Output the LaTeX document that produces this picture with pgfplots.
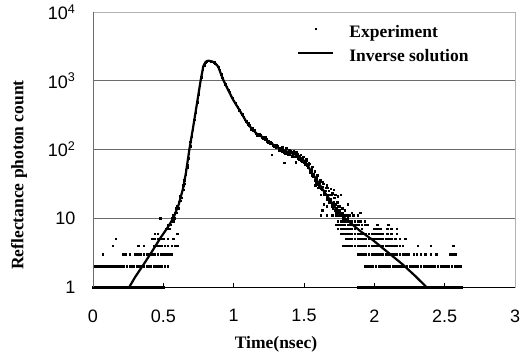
\documentclass[border=0pt]{standalone}
\usepackage{pgfplots}
\pgfplotsset{compat=1.18}
\usepackage{fontspec}
\setmainfont{Liberation Serif}
\setsansfont{Liberation Sans}
\begin{document}
\begin{tikzpicture}[x=1pt,y=1pt]
\useasboundingbox (0,0) rectangle (526,356);
\begin{axis}[
  at={(93pt,69pt)}, anchor=south west,
  scale only axis, width=422pt, height=275pt,
  xmin=0, xmax=3, ymode=log, ymin=1, ymax=10000,
  xtick={0,0.5,1,1.5,2,2.5,3},
  xticklabels={0,0.5,1,1.5,2,2.5,3},
  ytick={1,10,100,1000,10000},
  yticklabels={1,10,10\textsuperscript{2},10\textsuperscript{3},10\textsuperscript{4}},
  yminorticks=false,
  /pgf/number format/assume math mode=true,
  tick label style={font=\fontsize{18}{20}\selectfont\sffamily},
  xticklabel style={yshift=-19pt},
  yticklabel style={xshift=-14pt},
  xtick pos=bottom, tick align=inside, major tick length=4pt,
  xtick style={black, line width=0.8pt},
  ytick style={draw=none},
  ymajorgrids, grid style={gray!85!black, line width=0.8pt},
  axis line style={gray!60, line width=0.8pt},
  legend style={at={(axis description cs:0.4834,0.951)}, anchor=north west,
    draw=none, fill=none, inner sep=0pt, row sep=8pt,
    font=\fontsize{17.5}{20}\selectfont\bfseries,
    nodes={inner sep=0pt, text height=12pt, text depth=4pt, anchor=west},
    /tikz/every odd column/.append style={column sep=15pt}},
  legend cell align=left,
]
\addplot[only marks, mark=square*, mark size=0.75pt, black,
  legend image code/.code={\fill[black] (16.8pt,4.3pt) rectangle (18.2pt,5.7pt);}]
coordinates {
(0.00,1)(0.01,1)(0.02,1)(0.03,1)(0.04,1)(0.05,1)(0.06,1)(0.07,1)(0.08,1)(0.09,1)
(0.10,1)(0.11,1)(0.12,1)(0.13,1)(0.14,1)(0.15,1)(0.16,1)(0.17,1)(0.18,1)(0.19,1)
(0.20,1)(0.21,1)(0.22,1)(0.23,1)(0.24,1)(0.25,1)(0.26,1)(0.27,1)(0.28,1)(0.29,1)
(0.30,1)(0.31,1)(0.32,1)(0.33,1)(0.34,1)(0.35,1)(0.36,1)(0.37,1)(0.38,1)(0.39,1)
(0.40,1)(0.41,1)(0.42,1)(0.43,1)(0.44,1)(0.45,1)(0.46,1)(0.47,1)(0.48,1)(0.50,1)
(0.01,2)(0.03,2)(0.04,2)(0.06,2)(0.08,2)(0.10,2)(0.11,2)(0.13,2)(0.15,2)(0.17,2)
(0.18,2)(0.20,2)(0.22,2)(0.24,2)(0.26,2)(0.27,2)(0.29,2)(0.31,2)(0.33,2)(0.34,2)
(0.36,2)(0.38,2)(0.40,2)(0.41,2)(0.43,2)(0.45,2)(0.47,2)(0.49,2)(0.51,2)(0.53,2)
(0.07,3)(0.21,3)(0.23,3)(0.26,3)(0.30,3)(0.32,3)(0.34,3)(0.36,3)(0.38,3)(0.40,3)
(0.42,3)(0.44,3)(0.46,3)(0.48,3)(0.50,3)(0.52,3)(0.54,3)(0.56,3)
(0.14,4)(0.32,4)(0.36,4)(0.43,4)(0.45,4)(0.47,4)(0.49,4)(0.51,4)(0.53,4)(0.56,4)(0.58,4)(0.60,4)
(0.16,5)(0.42,5)(0.44,5)(0.46,5)(0.48,5)(0.50,5)(0.53,5)(0.57,5)
(0.44,6)(0.46,6)(0.60,6)(0.476,10)
(0.52,7)(0.53,8)(0.54,7)(0.55,8)(0.56,10)(0.57,9)(0.57,11)(0.58,12)(0.58,10)(0.59,12)(0.59,14)
(0.60,15)(0.61,17)(0.61,14)(0.62,18)(0.62,21)(0.63,24)(0.63,20)(0.64,26)(0.64,30)(0.65,36)(0.65,32)
(0.66,44)(0.66,50)(0.67,60)(0.67,55)(0.68,88)(0.68,75)(0.69,112)(0.69,130)(0.70,155)(0.70,170)
(0.71,198)(0.72,270)(0.73,350)(0.74,485)(0.75,640)(0.76,870)(0.77,1130)(0.78,1480)(0.79,1690)
(0.80,1870)(0.81,1940)(0.82,1950)(0.83,1960)(0.84,1900)(0.85,1890)(0.86,1850)(0.87,1760)(0.88,1700)(0.89,1590)
(0.90,1420)(0.91,1240)(0.92,1100)(0.93,1000)(0.94,890)(0.95,820)(0.96,735)(0.97,680)(0.98,610)(0.99,565)
(1.00,510)(1.01,480)(1.02,435)(1.03,410)(1.04,375)(1.05,345)(1.06,325)(1.07,300)(1.08,270)(1.09,258)
(1.10,235)(1.11,225)(1.12,205)(1.13,203)(1.14,188)(1.15,184)(1.16,170)(1.17,168)(1.18,158)(1.19,162)
(1.20,150)(1.21,153)(1.22,142)(1.23,141)(1.24,130)(1.25,133)(1.26,121)(1.27,125)(1.28,114)(1.29,118)
(1.30,108)(1.31,112)(1.32,100)(1.33,106)(1.34,95)(1.35,104)(1.36,92)(1.37,99)(1.38,88)(1.39,97)
(1.40,86)(1.41,93)(1.42,82)(1.43,90)(1.44,80)(1.45,86)(1.46,75)(1.47,80)(1.48,70)(1.49,74)
(1.50,64)(1.51,68)(1.52,58)(1.53,60)(1.54,49)(1.55,50)(1.56,42)(1.57,44)(1.58,36)(1.59,38)
(1.60,31)(1.61,33)(1.62,27)(1.63,29)(1.64,23)(1.65,25)(1.66,20)(1.67,22)(1.68,17)(1.69,19)
(1.70,15)(1.71,17)(1.72,13)(1.73,14)(1.74,12)(1.75,13)(1.76,11)(1.77,12)(1.78,10)(1.79,11)
(1.80,9)(1.81,10)(1.82,9)(1.83,8)(1.84,9)(1.85,8)
(1.105,240)(1.125,198)(1.145,192)(1.165,160)(1.185,170)(1.205,145)(1.225,150)(1.245,128)(1.265,130)(1.285,110)
(1.305,118)(1.325,98)(1.345,108)(1.365,88)(1.375,104)(1.385,84)(1.395,100)(1.405,94)(1.415,80)(1.425,96)
(1.435,78)(1.445,92)(1.455,85)(1.465,72)(1.475,84)(1.485,66)(1.495,78)(1.505,60)(1.515,72)(1.525,54)
(1.535,64)(1.545,46)(1.555,54)(1.565,40)(1.575,48)(1.585,33)(1.595,42)(1.605,29)(1.615,36)(1.625,26)
(1.635,32)(1.645,22)(1.655,28)(1.665,19)(1.675,25)(1.685,17)(1.695,22)(1.705,14)(1.715,20)(1.725,12)
(1.735,17)(1.745,11)(1.755,15)
(1.27,84)(1.36,64)(1.44,65)(1.52,70)(1.54,62)(1.56,56)(1.58,30)(1.60,28)(1.63,34)(1.66,30)(1.69,27)(1.67,28)(1.71,26)
(1.62,22)(1.64,22)(1.66,22)(1.68,22)(1.70,23)(1.72,22)(1.74,21)(1.76,22)
(1.64,16)(1.66,15)(1.70,16)(1.72,16)(1.74,15)(1.81,16)
(1.63,13)(1.75,13)(1.77,14)(1.79,13)(1.84,12)
(1.62,11)(1.66,11)(1.70,11)(1.73,11)(1.75,11)(1.77,11)(1.80,11)(1.82,11)(1.85,11)(1.88,11)(1.90,12)
(1.74,9)(1.76,9)(1.78,9)(1.80,9)(1.83,9)(1.86,9)(1.88,9)(1.90,9)(1.93,9)
(1.73,8)(1.75,8)(1.77,8)(1.79,8)(1.81,8)(1.83,8)(1.85,8)(1.87,8)(1.89,8)(1.91,8)(1.93,8)(1.95,8)(2.02,8)(2.10,8)
(1.74,7)(1.76,7)(1.78,7)(1.80,7)(1.82,7)(1.84,7)(1.86,7)(1.88,7)(1.91,7)(2.00,7)(2.02,7)(2.04,7)(2.09,7)(2.12,7)(2.16,7)
(1.76,6)(1.78,6)(1.80,6)(1.82,6)(1.84,6)(1.86,6)(1.88,6)(1.90,6)(1.92,6)(1.94,6)(1.96,6)(1.98,6)(2.00,6)(2.02,6)(2.04,6)(2.06,6)(2.09,6)(2.12,6)(2.16,6)
(1.80,5)(1.82,5)(1.84,5)(1.86,5)(1.88,5)(1.90,5)(1.92,5)(1.94,5)(1.96,5)(1.98,5)(2.00,5)(2.02,5)(2.04,5)(2.06,5)(2.08,5)(2.10,5)(2.12,5)(2.15,5)(2.18,5)(2.22,5)
(1.78,4)(1.80,4)(1.82,4)(1.84,4)(1.86,4)(1.88,4)(1.90,4)(1.92,4)(1.94,4)(1.96,4)(1.98,4)(2.00,4)(2.02,4)(2.04,4)(2.06,4)(2.08,4)(2.10,4)(2.12,4)(2.14,4)(2.16,4)(2.18,4)(2.20,4)(2.31,4)(2.40,4)(2.56,4)
(1.88,3)(1.90,3)(1.92,3)(1.94,3)(1.96,3)(1.98,3)(2.00,3)(2.02,3)(2.04,3)(2.06,3)(2.08,3)(2.10,3)(2.12,3)(2.14,3)(2.16,3)(2.18,3)(2.20,3)(2.22,3)(2.24,3)(2.28,3)(2.30,3)(2.33,3)(2.36,3)(2.40,3)(2.44,3)(2.54,3)(2.56,3)(2.58,3)
(1.93,2)(1.95,2)(1.97,2)(1.99,2)(2.01,2)(2.03,2)(2.05,2)(2.07,2)(2.09,2)(2.11,2)(2.13,2)(2.15,2)(2.17,2)(2.19,2)(2.21,2)(2.23,2)(2.25,2)(2.27,2)
(2.29,2)(2.31,2)(2.33,2)(2.35,2)(2.37,2)(2.39,2)(2.41,2)(2.43,2)(2.45,2)(2.47,2)(2.49,2)(2.51,2)(2.53,2)(2.55,2)(2.57,2)(2.59,2)(2.61,2)
(1.88,1)(1.90,1)(1.92,1)(1.94,1)(1.95,1)(1.96,1)(1.97,1)(1.98,1)(1.99,1)
(2.00,1)(2.01,1)(2.02,1)(2.03,1)(2.04,1)(2.05,1)(2.06,1)(2.07,1)(2.08,1)(2.09,1)
(2.10,1)(2.11,1)(2.12,1)(2.13,1)(2.14,1)(2.15,1)(2.16,1)(2.17,1)(2.18,1)(2.19,1)
(2.20,1)(2.21,1)(2.22,1)(2.23,1)(2.24,1)(2.25,1)(2.26,1)(2.27,1)(2.28,1)(2.29,1)
(2.30,1)(2.31,1)(2.32,1)(2.33,1)(2.34,1)(2.35,1)(2.36,1)(2.37,1)(2.38,1)(2.39,1)
(2.40,1)(2.41,1)(2.42,1)(2.43,1)(2.44,1)(2.45,1)(2.46,1)(2.47,1)(2.48,1)(2.49,1)
(2.50,1)(2.51,1)(2.52,1)(2.53,1)(2.54,1)(2.55,1)(2.56,1)(2.57,1)(2.58,1)(2.59,1)
(2.60,1)(2.61,1)(2.62,1)
};
\addlegendentry{Experiment}
\addplot[black, line width=2.2pt, line join=round,
  legend image code/.code={\draw[black, line width=2.2pt] (0pt,5pt) -- (35pt,5pt);}]
coordinates {
(0.20,0.6)(0.258,1)(0.30,1.4)(0.358,2.1)(0.42,3.3)(0.48,5.2)(0.53,7.3)(0.571,10)
(0.61,16)(0.64,27)(0.66,45)(0.685,100)(0.71,200)(0.74,480)(0.765,1000)(0.784,1620)
(0.80,1880)(0.82,1960)(0.85,1900)(0.87,1780)(0.89,1600)(0.91,1250)(0.926,1030)
(0.96,740)(0.997,525)(1.02,440)(1.05,350)(1.092,250)(1.116,215)(1.163,170)(1.21,150)
(1.26,125)(1.33,102)(1.40,90)(1.448,83)(1.49,72)(1.519,62)(1.55,48)(1.59,36)(1.64,25)
(1.684,18.5)(1.73,13.5)(1.79,10)(1.9,6.5)(1.99,4.8)(2.08,3.4)(2.16,2.5)(2.205,2.1)
(2.29,1.45)(2.37,1.0)(2.45,0.72)
};
\addlegendentry{Inverse solution}
\end{axis}
\draw[gray!85!black, line width=0.8pt] (93,69) -- (93,344);
\draw[black, line width=0.8pt] (93,69) -- (515,69);
\node[font=\fontsize{17.5}{20}\selectfont\bfseries] at (276,12) {Time(nsec)};
\node[rotate=90, font=\fontsize{17.5}{20}\selectfont\bfseries] at (19,181) {Reflectance photon count};
\end{tikzpicture}
\end{document}
